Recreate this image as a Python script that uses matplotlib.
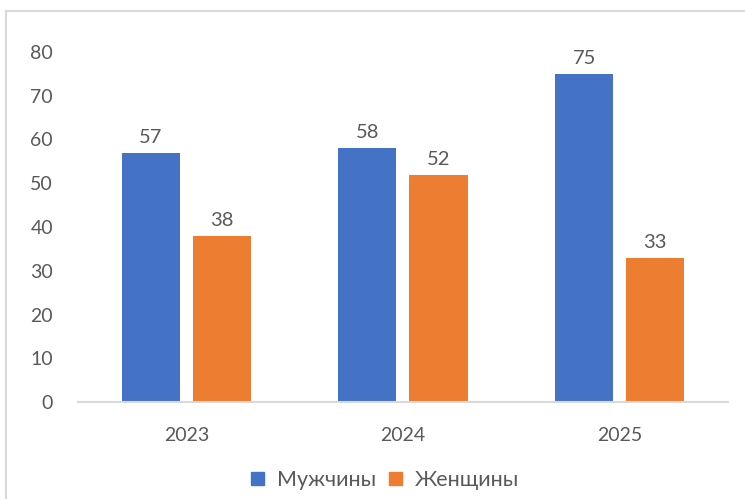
import matplotlib.pyplot as plt
from matplotlib.lines import Line2D
from matplotlib.patches import Rectangle
import numpy as np

plt.rcParams['font.family'] = ['Lato', 'DejaVu Sans']

years = ['2023', '2024', '2025']
men = [57, 58, 75]
women = [38, 52, 33]
series_names = ['Мужчины', 'Женщины']

blue = '#4472c4'
orange = '#ed7d31'
text_col = '#595959'
grid_col = '#d9d9d9'

fig = plt.figure(figsize=(7.45, 4.99), dpi=100)
ax = fig.add_axes([78 / 745, 1 - 402 / 499, 650 / 745, 350 / 499])

x = np.arange(len(years))
w = 0.268
gap = 0.06
b1 = ax.bar(x - (w + gap) / 2, men, w, color=blue, label=series_names[0])
b2 = ax.bar(x + (w + gap) / 2, women, w, color=orange, label=series_names[1])

for bars in (b1, b2):
    ax.bar_label(bars, padding=5, fontsize=14.5, color=text_col)

ax.set_xlim(-0.5, len(years) - 0.5)
ax.set_ylim(0, 80)
ax.set_yticks(range(0, 81, 10))
ax.set_xticks(x)
ax.set_xticklabels(years)
ax.tick_params(axis='both', length=0, labelsize=14, labelcolor=text_col)
ax.tick_params(axis='y', pad=18)
ax.tick_params(axis='x', pad=18)

for side in ('top', 'right', 'left'):
    ax.spines[side].set_visible(False)
ax.spines['bottom'].set_color(grid_col)
ax.spines['bottom'].set_linewidth(1.5)

handles = [Rectangle((0, 0), 1, 1, color=blue), Rectangle((0, 0), 1, 1, color=orange)]
fig.legend(handles, series_names, loc='center', bbox_to_anchor=(385 / 745, 1 - 480 / 499),
           ncol=2, frameon=False, fontsize=15.5, labelcolor=text_col,
           handlelength=0.6, handleheight=0.6, handletextpad=0.6, columnspacing=0.6)

# chart frame
fig.add_artist(Line2D([6.5 / 745, 1], [1 - 10.5 / 499] * 2, transform=fig.transFigure,
                      color=grid_col, lw=1.5))
fig.add_artist(Line2D([6.5 / 745] * 2, [0, 1 - 10.5 / 499], transform=fig.transFigure,
                      color=grid_col, lw=1.5))

fig.savefig('out.png', dpi=100)
